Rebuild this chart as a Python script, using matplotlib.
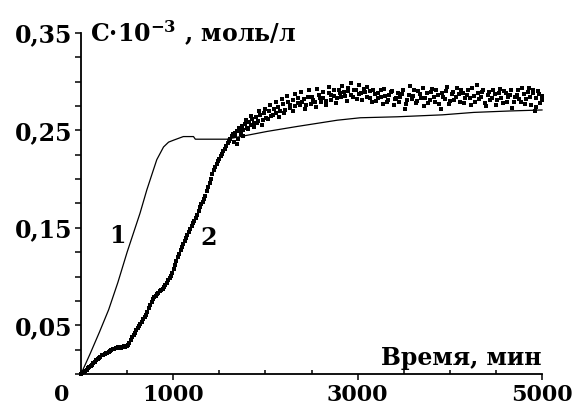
import matplotlib
matplotlib.use("Agg")
import matplotlib.pyplot as plt
from matplotlib.ticker import MultipleLocator, FixedLocator

plt.rcParams['font.family'] = ['DejaVu Serif']
plt.rcParams['font.weight'] = 'bold'
plt.rcParams['mathtext.fontset'] = 'custom'
plt.rcParams['mathtext.rm'] = 'DejaVu Serif:bold'
plt.rcParams['mathtext.it'] = 'DejaVu Serif:bold'
plt.rcParams['mathtext.bf'] = 'DejaVu Serif:bold'

# Curve 1 (model, solid line)
x1 = [0, 100, 200, 300, 400, 500, 640, 714, 780, 822, 895, 950, 1004, 1110, 1220, 1240,
      1580, 1730, 2020, 2340, 2780, 3030, 3430, 3920, 4260, 4660, 5000]
y1 = [0.000, 0.021, 0.043, 0.066, 0.094, 0.125, 0.165, 0.189, 0.208, 0.220, 0.233, 0.238,
      0.240, 0.2437, 0.2437, 0.241, 0.241, 0.2437, 0.249, 0.254, 0.2605, 0.263,
      0.264, 0.266, 0.2685, 0.270, 0.271]

# Curve 2 (experimental points), first set of readings
x2 = [0, 30, 60, 90, 120, 150, 180, 210, 240, 270, 300, 330, 360, 390, 420, 450,
      480, 510, 540, 570, 600, 630, 660, 690, 720, 750, 780, 810, 840, 870, 900,
      930, 960, 990, 1020, 1050, 1080, 1110, 1140, 1170, 1200, 1230, 1260, 1290,
      1320, 1350, 1380, 1410, 1440, 1470, 1500, 1530, 1560, 1590, 1620, 1650,
      1660, 1675, 1690, 1700, 1715, 1730, 1745, 1760, 1780, 1800, 1820, 1840,
      1860, 1880, 1900, 1920, 1945, 1970, 1990, 2010, 2040, 2060, 2090, 2110,
      2140, 2160, 2190, 2210, 2240, 2270, 2300, 2320, 2350, 2380, 2400, 2430,
      2460, 2490, 2520, 2550, 2580, 2600, 2630, 2660, 2690, 2710, 2740, 2770,
      2800, 2820, 2850, 2880, 2900, 2930, 2960, 2990, 3010, 3040, 3070, 3100,
      3130, 3160, 3190, 3220, 3250, 3280, 3300, 3330, 3360, 3390, 3420, 3450,
      3480, 3510, 3540, 3570, 3600, 3630, 3660, 3690, 3720, 3750, 3780, 3810,
      3840, 3870, 3900, 3930, 3960, 3990, 4020, 4050, 4080, 4110, 4140, 4170,
      4200, 4230, 4260, 4290, 4320, 4350, 4380, 4410, 4440, 4470, 4500, 4530,
      4560, 4590, 4620, 4650, 4680, 4710, 4740, 4770, 4800, 4830, 4860, 4880,
      4900, 4920, 4940, 4960, 4980, 5000]
y2 = [0.000, 0.002, 0.004, 0.007, 0.009, 0.012, 0.015, 0.017, 0.020, 0.022,
      0.023, 0.025, 0.026, 0.027, 0.027, 0.028, 0.028, 0.030, 0.035, 0.040,
      0.045, 0.049, 0.053, 0.058, 0.064, 0.071, 0.077, 0.080, 0.083, 0.086,
      0.089, 0.093, 0.099, 0.104, 0.112, 0.120, 0.127, 0.133, 0.140, 0.146,
      0.152, 0.157, 0.163, 0.171, 0.177, 0.183, 0.192, 0.200, 0.209, 0.216,
      0.221, 0.226, 0.231, 0.237, 0.241, 0.246,
      0.238, 0.244, 0.249, 0.241, 0.252, 0.246, 0.255, 0.250, 0.257, 0.253,
      0.259, 0.256, 0.262, 0.258, 0.264, 0.260, 0.266, 0.261, 0.268, 0.263,
      0.270, 0.265, 0.272, 0.268, 0.274, 0.270, 0.277, 0.271, 0.279, 0.273,
      0.281, 0.275, 0.283, 0.276, 0.279, 0.272, 0.284, 0.277, 0.281, 0.274,
      0.286, 0.279, 0.283, 0.276, 0.288, 0.281, 0.285, 0.278, 0.291, 0.284,
      0.289, 0.280, 0.294, 0.286, 0.291, 0.282, 0.297, 0.288, 0.293, 0.284,
      0.290, 0.279, 0.287, 0.283, 0.292, 0.277, 0.285, 0.281, 0.289, 0.276,
      0.283, 0.279, 0.287, 0.272, 0.281, 0.296, 0.285, 0.278, 0.290, 0.283,
      0.275, 0.288, 0.281, 0.293, 0.279, 0.286, 0.272, 0.284, 0.290, 0.277,
      0.287, 0.281, 0.294, 0.279, 0.288, 0.283, 0.291, 0.276, 0.285, 0.297,
      0.282, 0.289, 0.278, 0.286, 0.281, 0.292, 0.276, 0.288, 0.283, 0.290,
      0.279, 0.286, 0.273, 0.284, 0.291, 0.279, 0.287, 0.282, 0.294, 0.276,
      0.288, 0.270, 0.283, 0.290, 0.278, 0.285]

# Curve 2, second set of readings (in between the first set)
x2b = [15, 45, 75, 105, 135, 165, 195, 225, 255, 285, 315, 345, 375, 405, 435,
       465, 495, 525, 555, 585, 615, 645, 675, 705, 735, 765, 795, 825, 855,
       885, 915, 945, 975, 1005, 1035, 1065, 1095, 1125, 1155, 1185, 1215,
       1245, 1275, 1305, 1335, 1365, 1395, 1425, 1455, 1485, 1515, 1545, 1575,
       1605, 1635,
       1665, 1695, 1725, 1755, 1785, 1815, 1845, 1875, 1905, 1935, 1965, 1995,
       2025, 2055, 2085, 2115, 2145, 2175, 2205, 2235, 2265, 2295, 2325, 2355,
       2385, 2415, 2445, 2475, 2505, 2535, 2565, 2595, 2625, 2655, 2685, 2715,
       2745, 2775, 2805, 2835, 2865, 2895, 2925, 2955, 2985, 3015, 3045, 3075,
       3105, 3135, 3165, 3195, 3225, 3255, 3285, 3315, 3345, 3375, 3405, 3435,
       3465, 3495, 3525, 3555, 3585, 3615, 3645, 3675, 3705, 3735, 3765, 3795,
       3825, 3855, 3885, 3915, 3945, 3975, 4005, 4035, 4065, 4095, 4125, 4155,
       4185, 4215, 4245, 4275, 4305, 4335, 4365, 4395, 4425, 4455, 4485, 4515,
       4545, 4575, 4605, 4635, 4665, 4695, 4725, 4755, 4785, 4815, 4845, 4875,
       4905, 4935, 4965, 4995]
y2b = [0.001, 0.003, 0.006, 0.008, 0.011, 0.014, 0.016, 0.019, 0.021, 0.022,
       0.024, 0.026, 0.027, 0.028, 0.027, 0.029, 0.029, 0.032, 0.038, 0.042,
       0.047, 0.051, 0.056, 0.061, 0.068, 0.074, 0.079, 0.082, 0.085, 0.087,
       0.091, 0.096, 0.101, 0.108, 0.116, 0.123, 0.130, 0.137, 0.143, 0.149,
       0.155, 0.160, 0.167, 0.174, 0.180, 0.188, 0.196, 0.205, 0.212, 0.219,
       0.224, 0.229, 0.234, 0.239, 0.244,
       0.247, 0.236, 0.250, 0.244, 0.261, 0.251, 0.265, 0.254, 0.258, 0.270,
       0.256, 0.272, 0.262, 0.276, 0.266, 0.279, 0.264, 0.282, 0.268, 0.285,
       0.276, 0.270, 0.287, 0.278, 0.289, 0.282, 0.276, 0.291, 0.284, 0.279,
       0.293, 0.283, 0.289, 0.280, 0.295, 0.286, 0.291, 0.283, 0.288, 0.296,
       0.285, 0.290, 0.299, 0.284, 0.292, 0.287, 0.281, 0.289, 0.295, 0.283,
       0.291, 0.280, 0.288, 0.284, 0.293, 0.279, 0.286, 0.290, 0.282, 0.288,
       0.284, 0.291, 0.277, 0.286, 0.282, 0.292, 0.280, 0.287, 0.294, 0.283,
       0.278, 0.289, 0.284, 0.291, 0.277, 0.288, 0.282, 0.295, 0.280, 0.289,
       0.284, 0.287, 0.292, 0.278, 0.286, 0.283, 0.294, 0.279, 0.288, 0.284,
       0.292, 0.275, 0.289, 0.283, 0.287, 0.281, 0.293, 0.278, 0.288, 0.284,
       0.291, 0.279, 0.286, 0.282, 0.294, 0.277, 0.289, 0.284, 0.292, 0.274,
       0.287, 0.281]

y_ticks = [0.05, 0.15, 0.25, 0.35]
y_labels = ['0,05', '0,15', '0,25', '0,35']
x_ticks = [1000, 3000, 5000]
x_labels = ['1000', '3000', '5000']

W, H = 577, 408
fig = plt.figure(figsize=(W / 100, H / 100), dpi=100)
ax = fig.add_axes([81 / W, 34 / H, 461 / W, 341 / H])

ax.plot(x1, y1, color='black', lw=0.9, clip_on=False)
for xs, ys in [(x2, y2), (x2b, y2b)]:
    ax.plot(xs, ys, linestyle='none', marker='s', markersize=2.2,
            markeredgewidth=0, color='black', clip_on=False)

ax.set_xlim(0, 5000)
ax.set_ylim(0, 0.35)
for s in ['top', 'right']:
    ax.spines[s].set_visible(False)
for s in ['left', 'bottom']:
    ax.spines[s].set_linewidth(1.3)

fs = 17
fsx = 16
ax.yaxis.set_major_locator(FixedLocator(y_ticks))
ax.set_yticklabels(y_labels, fontsize=fs, fontweight='bold')
ax.yaxis.set_minor_locator(MultipleLocator(0.025))
ax.xaxis.set_major_locator(FixedLocator(x_ticks))
ax.set_xticklabels(x_labels, fontsize=fsx, fontweight='bold')
ax.xaxis.set_minor_locator(MultipleLocator(500))

ax.tick_params(axis='y', which='both', direction='out', length=4.5, width=1.1, pad=2)
ax.tick_params(axis='x', which='major', direction='out', length=4, width=1.1, pad=3)
ax.tick_params(axis='x', which='minor', direction='in', length=3, width=1.1)

# "0" origin label, offset left of the axis as in the original
ax.text(-210, -0.0105, '0', fontsize=fsx, fontweight='bold',
        ha='center', va='top', clip_on=False)

ax.text(100, 0.3405, 'C·10$^{-3}$ , моль/л', fontsize=fs, fontweight='bold',
        ha='left', va='baseline', clip_on=False)
ax.text(4990, 0.009, 'Время, мин', fontsize=fs, fontweight='bold',
        ha='right', va='baseline')

ax.text(390, 0.1417, '1', fontsize=fs, fontweight='bold', ha='center', va='center')
ax.text(1388, 0.140, '2', fontsize=fs, fontweight='bold', ha='center', va='center')

fig.savefig('out.png', dpi=100)
